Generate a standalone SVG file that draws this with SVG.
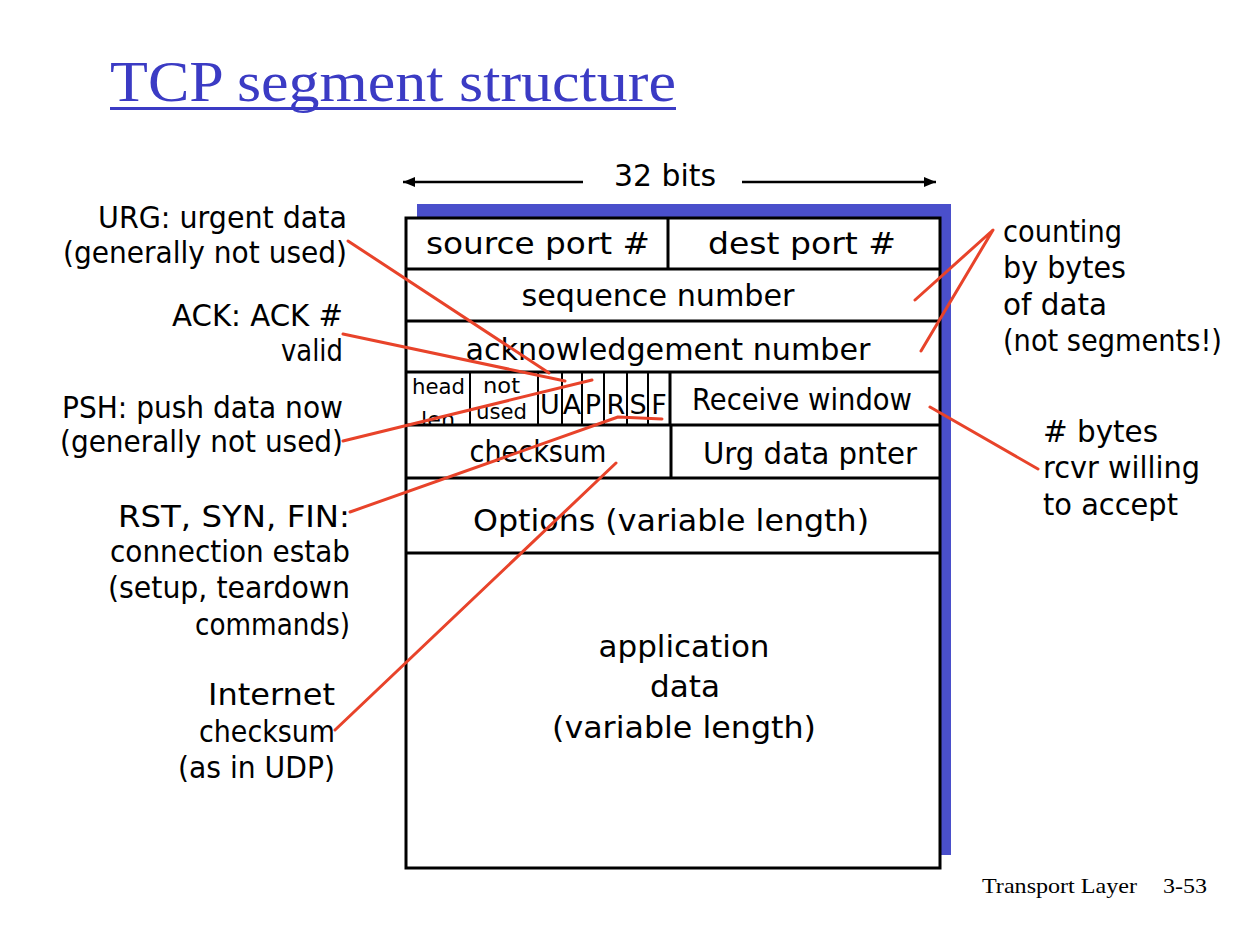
<svg xmlns="http://www.w3.org/2000/svg" width="1260" height="938" viewBox="0 0 1260 938">
<style>
.t{font-family:"DejaVu Sans","Noto Sans",sans-serif;font-size:30px;fill:#000}
.s{font-family:"DejaVu Sans","Noto Sans",sans-serif;font-size:21px;fill:#000}
.f{font-family:"DejaVu Sans","Noto Sans",sans-serif;font-size:27px;fill:#000}
.r{text-anchor:end}
.m{text-anchor:middle}
.b{stroke:#000;stroke-width:3;fill:none}
.b2{stroke:#000;stroke-width:2;fill:none}
.red{stroke:#e8432a;stroke-width:3;fill:none;stroke-linecap:round;stroke-linejoin:round}
</style>
<defs>
<marker id="ah" viewBox="0 0 12 10" refX="12" refY="5" markerWidth="13" markerHeight="10" orient="auto-start-reverse" markerUnits="userSpaceOnUse">
<path d="M0,0 L12,5 L0,10 z" fill="#000"/>
</marker>
<clipPath id="row4"><rect x="406" y="372" width="534" height="52"/></clipPath>
</defs>
<rect width="1260" height="938" fill="#fff"/>
<g id="title">
<text x="110" y="101" font-family="'Liberation Serif',serif" font-size="58" fill="#3b3bc4" textLength="566" lengthAdjust="spacingAndGlyphs">TCP segment structure</text>
<rect x="110" y="107" width="566" height="3" fill="#3b3bc4"/>
</g>
<g id="width-label">
<text class="t m" x="665" y="186" textLength="102" lengthAdjust="spacingAndGlyphs">32 bits</text>
<line x1="583" y1="182" x2="403" y2="182" stroke="#000" stroke-width="2.5" marker-end="url(#ah)"/>
<line x1="742" y1="182" x2="936" y2="182" stroke="#000" stroke-width="2.5" marker-end="url(#ah)"/>
</g>
<g id="segment">
<rect x="417" y="204" width="534" height="651" fill="#4a4fcb"/>
<rect x="406" y="218" width="534" height="650" fill="#fff"/>
</g>
<g id="source-port"><text class="t m" x="538" y="254" textLength="224" lengthAdjust="spacingAndGlyphs">source port #</text></g>
<g id="dest-port"><text class="t m" x="802" y="254" textLength="188" lengthAdjust="spacingAndGlyphs">dest port #</text></g>
<g id="sequence-number"><text class="t m" x="658" y="306" textLength="273" lengthAdjust="spacingAndGlyphs">sequence number</text></g>
<g id="ack-number"><text class="t m" x="668" y="360" textLength="405" lengthAdjust="spacingAndGlyphs">acknowledgement number</text></g>
<g id="head-len" clip-path="url(#row4)">
<text class="s" x="412" y="394" textLength="53" lengthAdjust="spacingAndGlyphs">head</text>
<text class="s" x="421" y="427" textLength="34" lengthAdjust="spacingAndGlyphs">len</text>
</g>
<g id="not-used">
<text class="s" x="483" y="393" textLength="37" lengthAdjust="spacingAndGlyphs">not</text>
<text class="s" x="476" y="419" textLength="51" lengthAdjust="spacingAndGlyphs">used</text>
</g>
<g id="flags">
<text class="f m" x="550" y="414">U</text>
<text class="f m" x="572" y="414">A</text>
<text class="f m" x="593" y="414">P</text>
<text class="f m" x="616" y="414">R</text>
<text class="f m" x="638" y="414">S</text>
<text class="f m" x="659" y="414">F</text>
</g>
<g id="receive-window"><text class="t m" x="802" y="410" textLength="220" lengthAdjust="spacingAndGlyphs">Receive window</text></g>
<g id="checksum"><text class="t m" x="538" y="462" textLength="137" lengthAdjust="spacingAndGlyphs">checksum</text></g>
<g id="urg-pointer"><text class="t m" x="810" y="464" textLength="214" lengthAdjust="spacingAndGlyphs">Urg data pnter</text></g>
<g id="options"><text class="t m" x="671" y="531" textLength="396" lengthAdjust="spacingAndGlyphs">Options (variable length)</text></g>
<g id="app-data">
<text class="t m" x="684" y="657" textLength="171" lengthAdjust="spacingAndGlyphs">application</text>
<text class="t m" x="685" y="697" textLength="70" lengthAdjust="spacingAndGlyphs">data</text>
<text class="t m" x="684" y="738" textLength="264" lengthAdjust="spacingAndGlyphs">(variable length)</text>
</g>
<g id="grid">
<rect class="b" x="406" y="218" width="534" height="650"/>
<path class="b" d="M406,269H940M406,321H940M406,372H940M406,425H940M406,478H940M406,553H940"/>
<path class="b" d="M668,218V269M671,425V478M670,372V425"/>
<path class="b2" d="M470,372V425M538,372V425M562,372V425M582,372V425M604,372V425M627,372V425M648,372V425"/>
</g>
<g id="left-labels">
<text class="t r" x="347" y="228" textLength="249" lengthAdjust="spacingAndGlyphs">URG: urgent data</text>
<text class="t r" x="347" y="263" textLength="284" lengthAdjust="spacingAndGlyphs">(generally not used)</text>
<text class="t r" x="343" y="326" textLength="171" lengthAdjust="spacingAndGlyphs">ACK: ACK #</text>
<text class="t r" x="343" y="361" textLength="62" lengthAdjust="spacingAndGlyphs">valid</text>
<text class="t r" x="343" y="418" textLength="281" lengthAdjust="spacingAndGlyphs">PSH: push data now</text>
<text class="t r" x="343" y="452" textLength="283" lengthAdjust="spacingAndGlyphs">(generally not used)</text>
<text class="t r" x="350" y="527" textLength="232" lengthAdjust="spacingAndGlyphs">RST, SYN, FIN:</text>
<text class="t r" x="350" y="562" textLength="240" lengthAdjust="spacingAndGlyphs">connection estab</text>
<text class="t r" x="350" y="598" textLength="242" lengthAdjust="spacingAndGlyphs">(setup, teardown</text>
<text class="t r" x="350" y="635" textLength="155" lengthAdjust="spacingAndGlyphs">commands)</text>
<text class="t r" x="335" y="705" textLength="127" lengthAdjust="spacingAndGlyphs">Internet</text>
<text class="t r" x="335" y="742" textLength="136" lengthAdjust="spacingAndGlyphs">checksum</text>
<text class="t r" x="335" y="778" textLength="157" lengthAdjust="spacingAndGlyphs">(as in UDP)</text>
</g>
<g id="right-labels">
<text class="t" x="1003" y="242" textLength="119" lengthAdjust="spacingAndGlyphs">counting</text>
<text class="t" x="1003" y="278" textLength="123" lengthAdjust="spacingAndGlyphs">by bytes</text>
<text class="t" x="1003" y="315" textLength="104" lengthAdjust="spacingAndGlyphs">of data</text>
<text class="t" x="1003" y="351" textLength="219" lengthAdjust="spacingAndGlyphs">(not segments!)</text>
<text class="t" x="1043" y="442" textLength="115" lengthAdjust="spacingAndGlyphs"># bytes</text>
<text class="t" x="1043" y="478" textLength="157" lengthAdjust="spacingAndGlyphs">rcvr willing</text>
<text class="t" x="1043" y="515" textLength="135" lengthAdjust="spacingAndGlyphs">to accept</text>
</g>
<g id="connectors">
<line class="red" x1="348" y1="241" x2="549" y2="373"/>
<line class="red" x1="343" y1="334" x2="565" y2="381"/>
<line class="red" x1="343" y1="441" x2="592" y2="380"/>
<polyline class="red" points="350,512 618,417 662,419"/>
<line class="red" x1="335" y1="730" x2="616" y2="463"/>
<polyline class="red" points="915,300 993,230 921,351"/>
<line class="red" x1="930" y1="407" x2="1038" y2="469"/>
</g>
<g id="footer">
<text x="982" y="893" font-family="'Liberation Serif',serif" font-size="21" fill="#000" textLength="155" lengthAdjust="spacingAndGlyphs">Transport Layer</text>
<text x="1163" y="893" font-family="'Liberation Serif',serif" font-size="21" fill="#000" textLength="44" lengthAdjust="spacingAndGlyphs">3-53</text>
</g>
</svg>
